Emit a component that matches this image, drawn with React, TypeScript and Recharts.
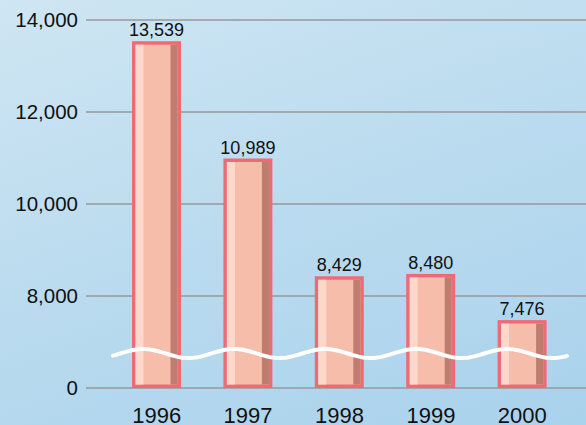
import { BarChart, Bar, XAxis, YAxis, CartesianGrid, LabelList, ReferenceLine } from "recharts";

const years = ["1996", "1997", "1998", "1999", "2000"];
const values = [13539, 10989, 8429, 8480, 7476];
// the axis is broken: the bottom tick stands for 0, the rest run 8,000 to 14,000
const yTicks = [6000, 8000, 10000, 12000, 14000];
const breakAt = 6750;

const data = years.map((year, i) => ({ year, value: values[i] }));

const BORDER = "#ee6b76";
const MAIN = "#f6bdab";
const LIGHT = "#fdd8cb";
const DARK = "#bf7d6f";

function BarShape(props: any) {
  const { x, y, width, height } = props;
  const b = 3.5;
  return (
    <g>
      <rect x={x} y={y} width={width} height={height} fill={BORDER} />
      <rect x={x + b} y={y + b} width={width - 2 * b} height={height - 2 * b} fill={MAIN} />
      <rect x={x + b} y={y + b} width={8} height={height - 2 * b} fill={LIGHT} />
      <rect x={x + width - b - 7} y={y + b} width={7} height={height - 2 * b} fill={DARK} />
    </g>
  );
}

function Wave(props: any) {
  const { x1, x2, y1 } = props;
  const start = x1 + 27;
  const end = x2 - 18;
  const period = 91;
  const amp = 4.5;
  let d = "";
  for (let px = start; px <= end; px += 2) {
    const py = y1 - amp * Math.cos((2 * Math.PI * (px - 143)) / period);
    d += (d ? " L" : "M") + px.toFixed(1) + "," + py.toFixed(2);
  }
  return <path d={d} fill="none" stroke="#ffffff" strokeWidth={4} strokeLinecap="round" />;
}

export default function App() {
  return (
    <div
      style={{
        position: "fixed",
        left: 0,
        top: 0,
        width: 586,
        height: 425,
        overflow: "hidden",
        fontFamily: "'Liberation Sans', Arial, sans-serif",
        background: "linear-gradient(160deg, #cfe6f3 0%, #bcdcef 45%, #a9d2ec 100%)",
      }}
    >
      <BarChart
        width={586}
        height={425}
        data={data}
        margin={{ top: 20, right: 0, bottom: 0, left: 0 }}
      >
        <CartesianGrid vertical={false} stroke="#999999" strokeWidth={1.5} />
        <XAxis
          dataKey="year"
          height={37}
          axisLine={false}
          tickLine={false}
          tickMargin={13}
          padding={{ left: 25, right: 18 }}
          tick={{ fill: "#111", fontSize: 22 }}
        />
        <YAxis
          width={86}
          domain={[6000, 14000]}
          ticks={yTicks}
          allowDataOverflow
          axisLine={false}
          tickLine={false}
          tick={{ fill: "#111", fontSize: 20.5 }}
          tickFormatter={(v: number) => (v === 6000 ? "0" : v.toLocaleString("en-US"))}
        />
        <Bar dataKey="value" barSize={49} shape={<BarShape />} isAnimationActive={false}>
          <LabelList
            dataKey="value"
            position="top"
            offset={5}
            fill="#111"
            fontSize={18}
            formatter={(v: any) => Number(v).toLocaleString("en-US")}
          />
        </Bar>
        <ReferenceLine y={breakAt} stroke="none" shape={(p: any) => <Wave {...p} />} />
      </BarChart>
    </div>
  );
}
